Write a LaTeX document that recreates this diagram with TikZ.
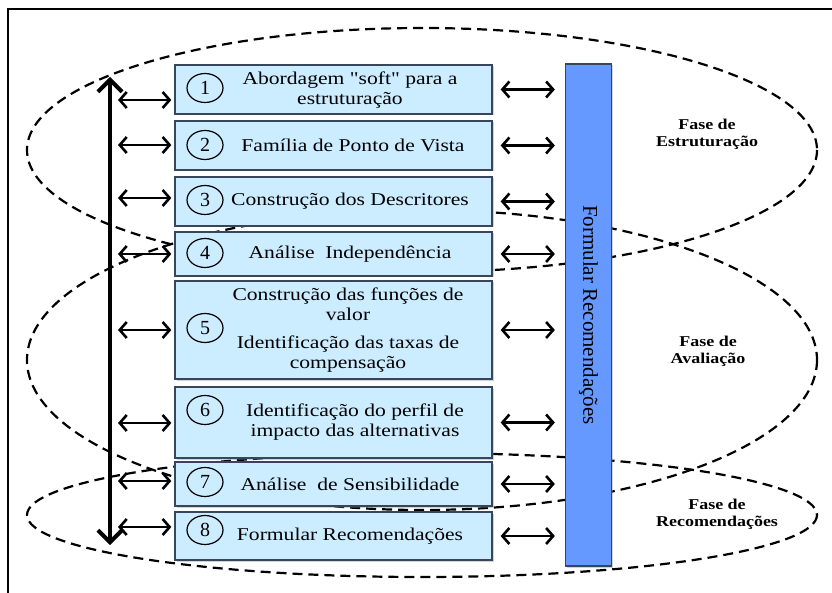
\documentclass[tikz,border=0pt]{standalone}
\usepackage{fontspec}
\setmainfont{Liberation Serif}
\usetikzlibrary{arrows.meta,shapes.geometric,shadows}
\definecolor{boxblue}{RGB}{204,236,255}
\definecolor{barblue}{RGB}{102,153,255}
\definecolor{boxline}{RGB}{55,70,90}
\begin{document}
\begin{tikzpicture}[x=1pt, y=-1pt,
  stepbox/.style={draw=boxline, line width=1.3pt, fill=boxblue, minimum width=317, inner sep=0, drop shadow={shadow xshift=1.5pt, shadow yshift=-1.5pt, opacity=0.35}},
  numcirc/.style={ellipse, draw, line width=1.2pt, minimum width=36, minimum height=29, inner sep=0, font=\fontsize{20}{20}\selectfont},
  steptext/.style={align=center, xscale=1.2, transform shape, font=\fontsize{18}{20}\selectfont},
  phasetext/.style={align=center, xscale=1.2, transform shape, font=\bfseries\fontsize{15}{17}\selectfont},
  phase/.style={dash pattern=on 10pt off 6pt, line width=2.2pt},
  link/.style={arrows={Straight Barb[length=7pt,width=16pt,line width=2.6pt]-Straight Barb[length=7pt,width=16pt,line width=2.6pt]}, line width=2.2pt},
  spine/.style={arrows={Straight Barb[length=12pt,width=24pt]-Straight Barb[length=12pt,width=24pt]}, line width=4pt}]
\useasboundingbox (0,0) rectangle (832,593);
\draw[line width=1.5pt] (8,593) -- (8,9) -- (832,9);
\draw[phase] (422,150) ellipse [x radius=395, y radius=122];
\draw[phase] (422,360) ellipse [x radius=395, y radius=150];
\draw[phase] (422,515) ellipse [x radius=395, y radius=62];
\foreach \i/\y/\h in {1/89.5/49, 2/145.5/49, 3/201.5/49, 4/254/44, 5/330/98, 6/422.5/71, 7/484/44, 8/536/48}
  \node[stepbox, minimum height=\h] (s\i) at (333.5,\y) {};
\foreach \i/\y in {1/88, 2/145, 3/200, 4/253, 5/328, 6/410, 7/482, 8/530}
  \node[numcirc] (c\i) at (205,\y) {\i};
\node[steptext] (t1) at (350,90) {Abordagem \textquotedbl soft\textquotedbl{} para a\\estruturação};
\node[steptext] (t2) at (353,145.5) {Família de Ponto de Vista};
\node[steptext] (t3) at (350,201.5) {Construção dos Descritores};
\node[steptext] (t4) at (350,254) {Análise~ Independência};
\node[steptext] (t5) at (348,330) {Construção das funções de\\valor\\[8pt]Identificação das taxas de\\compensação};
\node[steptext] (t6) at (355,422) {Identificação do perfil de\\impacto das alternativas};
\node[steptext] (t7) at (350,484) {Análise~ de Sensibilidade};
\node[steptext] (t8) at (350,536) {Formular Recomendações};
\node[draw=boxline, line width=1.3pt, fill=barblue, minimum width=46, minimum height=502, inner sep=0, drop shadow={shadow xshift=1.5pt, shadow yshift=-1.5pt, opacity=0.35}] (bar) at (588.5,315) {};
\node[rotate=-90, font=\fontsize{21}{21}\selectfont] (bartext) at (bar.center) {Formular Recomendações};
\foreach \i in {1,...,8}
  \draw[link, shorten <=8pt, shorten >=10pt] (s\i.east) -- (s\i.east -| bar.west);
\coordinate (top) at (110,77);
\coordinate (bottom) at (110,545);
\draw[spine] (top) -- (bottom);
\foreach \i/\y in {1/100, 2/145, 3/198, 4/254, 5/330, 6/423, 7/481, 8/527} {
  \coordinate (a\i) at (118,\y);
  \draw[link, shorten >=3pt] (a\i) -- (a\i -| s\i.west);
}
\node[phasetext] (f1) at (707,134) {Fase de\\Estruturação};
\node[phasetext] (f2) at (708,351) {Fase de\\Avaliação};
\node[phasetext] (f3) at (717,514) {Fase de\\Recomendações};
\end{tikzpicture}
\end{document}
